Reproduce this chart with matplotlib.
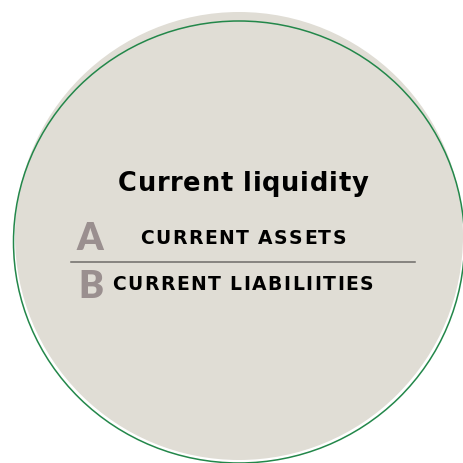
import matplotlib
matplotlib.use("Agg")
import matplotlib.pyplot as plt
from matplotlib.patches import Circle, Ellipse

# --------------------------------------------------
# Content
# --------------------------------------------------

title = "Current liquidity"
letters = ["A", "B"]
labels = ["CURRENT ASSETS", "CURRENT LIABILIITIES"]

BEIGE = "#e0ddd5"
GREEN = "#23874a"
LETTER_GRAY = "#9a8f8f"
RULE_GRAY = "#6e6b68"

# --------------------------------------------------
# Canvas in pixel units
# --------------------------------------------------

W, H = 464, 463
fig = plt.figure(figsize=(W / 100, H / 100), dpi=100)
ax = fig.add_axes([0, 0, 1, 1])
ax.set_xlim(0, W)
ax.set_ylim(H, 0)
ax.set_aspect("equal")
ax.axis("off")

renderer = fig.canvas.get_renderer()


def spaced_text(s, cx, cy, width, **kw):
    # draw s char by char, spread so the whole line spans `width` px
    parts = []
    for ch in s:
        t = ax.text(0, cy, ch, ha="left", va="center", **kw)
        parts.append((t, t.get_window_extent(renderer).width))
    total = sum(w for _, w in parts)
    gap = (width - total) / max(len(s) - 1, 1)
    x = cx - width / 2
    for t, w in parts:
        t.set_x(x)
        x += w + gap


# filled disc and the offset outline
ax.add_patch(Circle((239, 236), 224, facecolor=BEIGE, edgecolor="none"))
ax.add_patch(Ellipse((239, 242), 451, 442, facecolor="none",
                     edgecolor=GREEN, linewidth=1.1))

font = dict(family="DejaVu Sans", fontweight="bold", color="black")

spaced_text(title, 243, 184, 250, fontsize=18.5, **font)

ax.text(90, 239, letters[0], ha="center", va="center",
        fontsize=27, fontweight="heavy", family="Lato", color=LETTER_GRAY)
spaced_text(labels[0], 243, 239, 206, fontsize=13.5, **font)

ax.plot([71, 415], [262, 262], color=RULE_GRAY, linewidth=1.1)

ax.text(91, 287, letters[1], ha="center", va="center",
        fontsize=27, fontweight="heavy", family="Lato", color=LETTER_GRAY)
spaced_text(labels[1], 242.5, 285, 261, fontsize=13.5, **font)

fig.savefig("out.png", dpi=100)
